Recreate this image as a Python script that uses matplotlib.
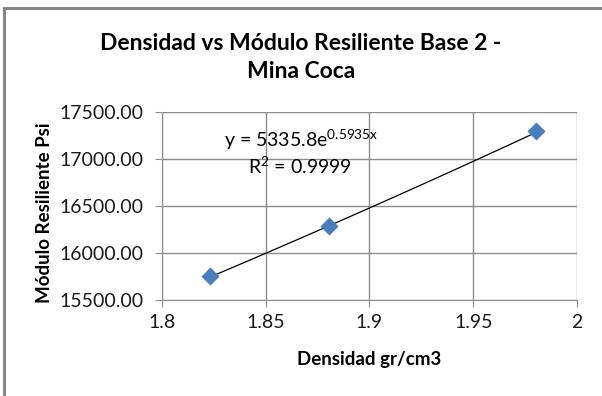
import numpy as np
import matplotlib.pyplot as plt
from matplotlib.patches import Rectangle

densidad = [1.823, 1.8805, 1.980]
modulo = [15755, 16287, 17298]

# exponential trendline coefficients y = a * e^(b x)
coef_a = 5335.8
coef_b = 0.5935
r2 = 0.9999

W, H = 602, 396

plt.rcParams['font.family'] = ['Lato', 'DejaVu Sans']
plt.rcParams['mathtext.default'] = 'regular'

fig = plt.figure(figsize=(W / 100, H / 100), dpi=100)
ax = fig.add_axes([162 / W, 1 - 300 / H, 415 / W, 188 / H])

# chart border
fig.patches.append(Rectangle((3.5 / W, -0.1), 1.2, 1 - 7.5 / H + 0.1,
                             transform=fig.transFigure, fill=False,
                             edgecolor='#868686', linewidth=2.2))

xs = np.linspace(min(densidad), max(densidad), 50)
ax.plot(xs, coef_a * np.exp(coef_b * xs), color='black', linewidth=0.9, zorder=2)
ax.scatter(densidad, modulo, marker='D', s=85, color='#4a7ebb', zorder=3, linewidths=0)

ax.set_xlim(1.8, 2.0)
ax.set_ylim(15500, 17500)
ax.set_xticks([1.8, 1.85, 1.9, 1.95, 2.0])
ax.set_xticklabels(['1.8', '1.85', '1.9', '1.95', '2'])
yt = np.arange(15500, 17501, 500)
ax.set_yticks(yt)
ax.set_yticklabels([f'{v:.2f}' for v in yt])
ax.grid(True, color='#8c8c8c', linewidth=1.0)
ax.set_axisbelow(True)
for side in ['top', 'right']:
    ax.spines[side].set_visible(False)
for side in ['left', 'bottom']:
    ax.spines[side].set_color('#8c8c8c')
ax.tick_params(axis='both', direction='out', length=5, color='#8c8c8c',
               labelsize=14, labelcolor='#1a1a1a')
ax.tick_params(axis='x', pad=5)
ax.tick_params(axis='y', pad=8)

fig.text(369 / W, 1 - 360 / H, 'Densidad gr/cm3', fontsize=13.5, fontweight='bold',
         ha='center', va='center')
fig.text(45 / W, 1 - 213 / H, 'Módulo Resiliente Psi', fontsize=13.5, fontweight='bold',
         ha='center', va='center', rotation=90)

fig.text(0.5, 1 - 57.5 / H, 'Densidad vs Módulo Resiliente Base 2 -\nMina Coca',
         ha='center', va='center', fontsize=16.5, fontweight='bold', linespacing=1.45)

ax.text(1.8299, 17202, f'y = {coef_a}e$^{{{coef_b}x}}$', fontsize=14, va='center', ha='left')
ax.text(1.8414, 16926, f'R$^2$ = {r2}', fontsize=14, va='center', ha='left')

fig.savefig('out.png', dpi=100)
